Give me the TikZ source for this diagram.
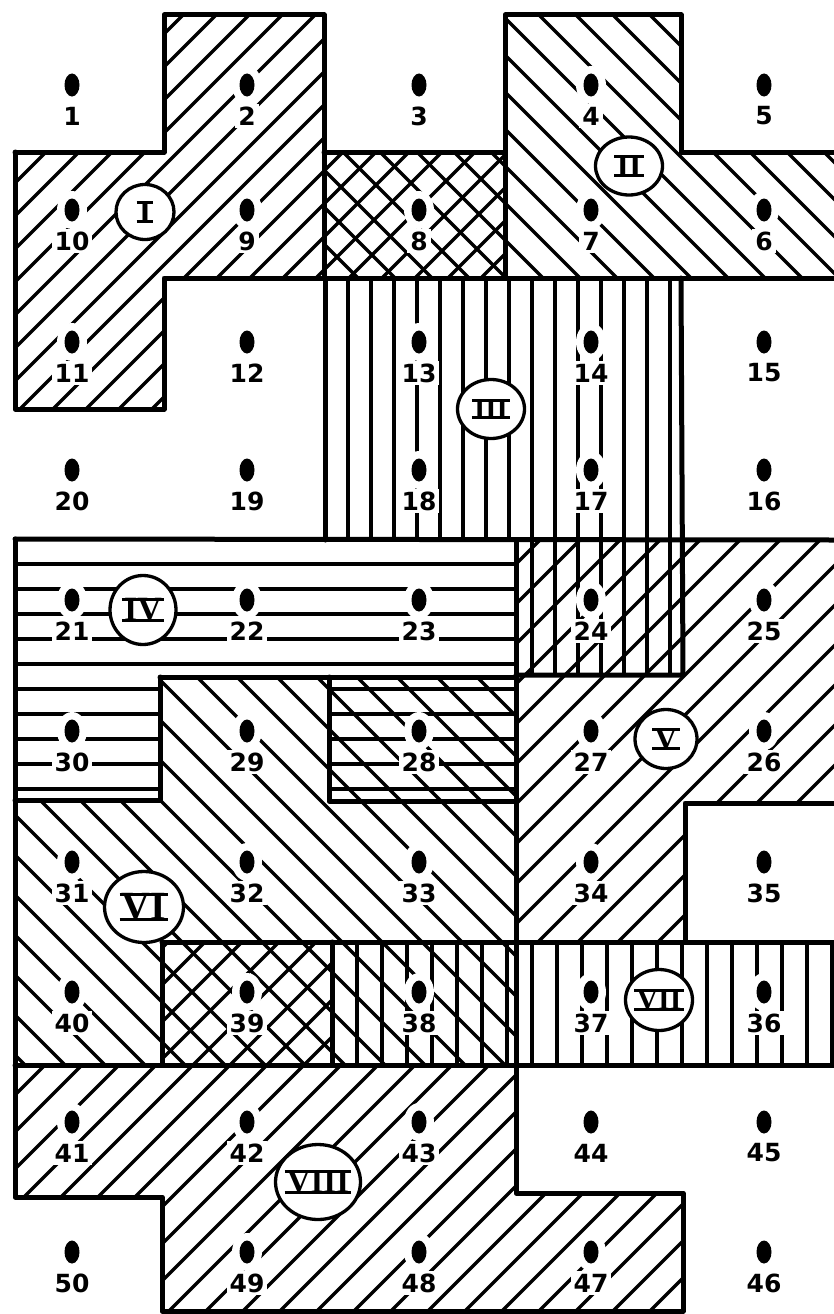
\documentclass[tikz,border=0pt]{standalone}
\usepackage{fontspec}
\newfontfamily\numfont{DejaVu Sans}
\newfontfamily\romfont{Liberation Serif}
\usetikzlibrary{shapes.geometric}

\newcommand\fwdhatch[2]{\begin{scope}\clip #1;\pgfmathtruncatemacro\nn{2300/#2}\foreach \k in {0,...,\nn}{\draw[hatch] ({\k*#2},0) -- ({\k*#2-1400},1400);}\end{scope}}
\newcommand\bakhatch[2]{\begin{scope}\clip #1;\pgfmathtruncatemacro\nn{2300/#2}\foreach \k in {0,...,\nn}{\draw[hatch] ({\k*#2-1400},0) -- ({\k*#2},1400);}\end{scope}}
\newcommand\verhatch[3]{\begin{scope}\clip #1;\foreach \k in {0,...,40}{\draw[hatch] ({#2+\k*#3},0) -- ({#2+\k*#3},1314);}\end{scope}}
\newcommand\horhatch[3]{\begin{scope}\clip #1;\foreach \k in {0,...,20}{\draw[hatch] (0,{#2+\k*#3}) -- (834,{#2+\k*#3});}\end{scope}}
\newcommand\romnum[7]{%
  \node[romcirc, minimum width=#4pt, minimum height=#5pt] (c#1) at (#2,#3) {};
  \node[romtext, font=\romfont\bfseries\fontsize{#7}{#7}\selectfont] (t#1) at (c#1) {#6};
  \draw[rombar] ([xshift=-2pt,yshift=-1pt]t#1.north west) -- ([xshift=2pt,yshift=-1pt]t#1.north east);
  \draw[rombar] ([xshift=-2pt,yshift=1pt]t#1.south west) -- ([xshift=2pt,yshift=1pt]t#1.south east);
}

\begin{document}
\begin{tikzpicture}[x=1pt,y=-1pt,
  border/.style={line width=5pt, line cap=round, line join=round},
  hatch/.style={line width=3.3pt},
  dotmark/.style={ellipse, fill=black, minimum width=15pt, minimum height=23pt, inner sep=0pt},
  knock/.style={ellipse, fill=white, minimum width=30pt, minimum height=38pt, inner sep=0pt},
  numlabel/.style={fill=white, inner sep=3pt, font=\numfont\bfseries\fontsize{25}{25}\selectfont},
  romcirc/.style={ellipse, draw, line width=3.3pt, fill=white, inner sep=0pt},
  romtext/.style={inner sep=0pt},
  rombar/.style={line width=3pt}]
\useasboundingbox (0,0) rectangle (834,1314);
\fill[white] (0,0) rectangle (834,1314);

% ---- hatching ----
% I (forward slash), incl. cell 8
\fwdhatch{(164,15) -- (324,15) -- (324,278) -- (164,278) -- (164,409) -- (15,409) -- (15,152) -- (164,152) -- cycle (324,152) rectangle (505,278)}{33}
% II (backslash), incl. cell 8
\bakhatch{(505,15) -- (681,15) -- (681,152) -- (834,152) -- (834,278) -- (505,278) -- cycle (324,152) rectangle (505,278)}{37}
% III (vertical), incl. cell 24
\verhatch{(325,278) rectangle (681,540) (516,540) rectangle (683,675)}{325}{23}
% IV (horizontal), incl. cells 30 and 28
\horhatch{(15,539) rectangle (516,677) (15,677) rectangle (160,800) (329,677) rectangle (516,801)}{539}{25}
% V (forward slash)
\fwdhatch{(516,540) -- (834,540) -- (834,803) -- (685,803) -- (685,942) -- (516,942) -- cycle}{40}
% VI (backslash)
\bakhatch{(160,677) -- (516,677) -- (516,1065) -- (15,1065) -- (15,800) -- (160,800) -- cycle}{40}
% VII (vertical)
\verhatch{(332,942) rectangle (834,1065)}{332}{25}
% VIII (forward slash), incl. cell 39
\fwdhatch{(15,1065) -- (516,1065) -- (516,1193) -- (683,1193) -- (683,1314) -- (162,1314) -- (162,1197) -- (15,1197) -- cycle (162,942) rectangle (332,1065)}{37}

% ---- dots and numbers ----
\foreach \r in {1,...,10} {
  \foreach \c in {1,...,5} {
    \pgfmathtruncatemacro\n{mod(\r,2)==1 ? 5*(\r-1)+\c : 5*\r+1-\c}
    \pgfmathsetmacro\xx{{72,247,419,591,764}[\c-1]}
    \pgfmathsetmacro\yy{{85,210,342,470,600,731,862,992,1122,1252}[\r-1]}
    \node[knock] (k\n) at (\xx,\yy) {};
    \node[numlabel] (l\n) at (\xx,\yy+31) {\n};
    \node[dotmark] (d\n) at (\xx,\yy) {};
  }
}

% ---- borders ----
\draw[border] (15,152) -- (164,152) -- (164,15) -- (324,15) -- (324,278);
\draw[border] (15,152) -- (15,409) -- (164,409) -- (164,278) -- (834,278);
\draw[border] (324,152) -- (505,152);
\draw[border] (505,278) -- (505,15) -- (681,15) -- (681,152) -- (834,152);
\draw[border] (325,278) -- (325,540);
\draw[border] (681,278) -- (683,675) -- (516,675);
\draw[border] (15,539) -- (834,540);
\draw[border] (15,539) -- (15,1197) -- (162,1197) -- (162,1311) -- (683,1311) -- (683,1193) -- (516,1193) -- (516,540);
\draw[border] (160,677) -- (516,677);
\draw[border] (15,800) -- (160,800) -- (160,677);
\draw[border] (329,677) -- (329,801) -- (516,801);
\draw[border] (834,803) -- (685,803) -- (685,942);
\draw[border] (162,942) -- (834,942);
\draw[border] (162,942) -- (162,1065);
\draw[border] (332,942) -- (332,1065);
\draw[border] (15,1065) -- (834,1065);

% ---- circled region numerals ----
\romnum{I}{145}{212}{58}{55}{I}{32}
\romnum{II}{629}{166}{67}{58}{II}{32}
\romnum{III}{491}{409}{67}{59}{III}{29}
\romnum{IV}{143}{610}{66}{69}{IV}{34}
\romnum{V}{666}{739}{62}{59}{V}{32}
\romnum{VI}{144}{907}{79}{71}{VI}{40}
\romnum{VII}{659}{1000}{67}{61}{VII}{30}
\romnum{VIII}{318}{1182}{85}{75}{VIII}{33}
\end{tikzpicture}
\end{document}
